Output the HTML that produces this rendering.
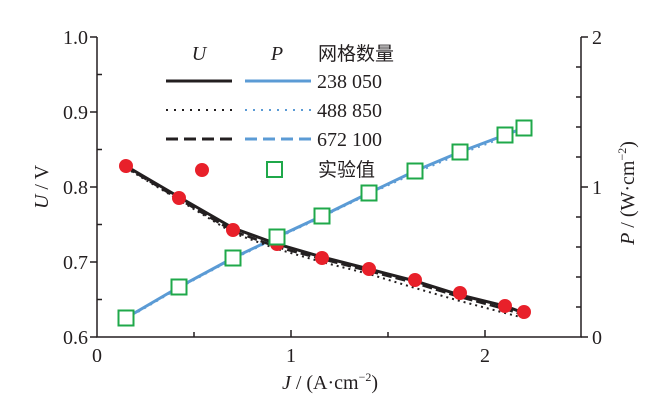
<!DOCTYPE html>
<html><head><meta charset="utf-8"><style>body{margin:0;background:#fff}svg{display:block}</style></head><body>
<svg width="664" height="414" xmlns="http://www.w3.org/2000/svg" font-family="Liberation Serif, serif" font-size="20" fill="#231f20">
<g stroke="#231f20" stroke-width="1.5" fill="none">
<path d="M97 37 V337 H581 V37"/>
<path d="M97 37h-7M97 112h-7M97 187h-7M97 262h-7M97 337h-7"/>
<path d="M97 74.5h5M97 149.5h5M97 224.5h5M97 299.5h5"/>
<path d="M581 37h7M581 187h7M581 337h7"/>
<path d="M581 67h-5M581 97h-5M581 127h-5M581 157h-5M581 217h-5M581 247h-5M581 277h-5M581 307h-5"/>
<path d="M194 337v-5M291 337v-7M388 337v-5M485 337v-7"/>
</g>
<g text-anchor="end"><text x="88" y="44">1.0</text><text x="88" y="119">0.9</text><text x="88" y="194">0.8</text><text x="88" y="269">0.7</text><text x="88" y="344">0.6</text></g>
<g><text x="592" y="44">2</text><text x="592" y="194">1</text><text x="592" y="344">0</text></g>
<g text-anchor="middle"><text x="97" y="362">0</text><text x="291" y="362">1</text><text x="485" y="362">2</text></g>
<text x="330" y="389" text-anchor="middle"><tspan font-style="italic">J</tspan> / (A·cm<tspan font-size="12" dy="-8">−2</tspan><tspan dy="8">)</tspan></text>
<text transform="translate(48 187) rotate(-90)" text-anchor="middle"><tspan font-style="italic">U</tspan> / V</text>
<text transform="translate(634 193) rotate(-90)" text-anchor="middle"><tspan font-style="italic">P</tspan> / (W·cm<tspan font-size="12" dy="-8">−2</tspan><tspan dy="8">)</tspan></text>
<text x="199" y="60" font-style="italic" text-anchor="middle">U</text>
<text x="277" y="60" font-style="italic" text-anchor="middle">P</text>
<text x="318" y="60" font-family="Liberation Sans, Noto Sans CJK SC, sans-serif" font-size="19">网格数量</text>
<text x="317" y="88">238 050</text><text x="317" y="117">488 850</text><text x="317" y="146">672 100</text>
<text x="318" y="176" font-family="Liberation Sans, Noto Sans CJK SC, sans-serif" font-size="19">实验值</text>
<path d="M166 81H232" stroke="#231f20" stroke-width="3"/>
<path d="M166 110H232" stroke="#231f20" stroke-width="2" stroke-dasharray="2 6"/>
<path d="M166 139H232" stroke="#231f20" stroke-width="3" stroke-dasharray="12 6"/>
<path d="M245 81H311" stroke="#5b9bd5" stroke-width="3"/>
<path d="M245 110H311" stroke="#5b9bd5" stroke-width="2" stroke-dasharray="2 6"/>
<path d="M245 139H311" stroke="#5b9bd5" stroke-width="3" stroke-dasharray="12 6"/>
<circle cx="202" cy="170" r="7" fill="#e8202a"/>
<rect x="267" y="162" width="15" height="15" fill="none" stroke="#1fa84a" stroke-width="2"/>
<polyline fill="none" stroke="#5b9bd5" stroke-width="3" points="126,318 179,287 233,258 277,237 322,216 369,193 415,171 460,152 505,135 524,128"/>
<polyline fill="none" stroke="#5b9bd5" stroke-width="2" stroke-dasharray="2 5" points="126,319 179,288 233,259 277,238 322,217 369,194 415,173 460,154 505,137 524,131"/>
<polyline fill="none" stroke="#231f20" stroke-width="3" points="126,166 179,197 233,228 277,244 322,257 369,269 415,281 460,295 505,306 524,313"/>
<polyline fill="none" stroke="#231f20" stroke-width="2.5" stroke-dasharray="10 4" points="126,167 179,199 233,231 277,247 322,259 369,271 415,283 460,297 505,309 524,315"/>
<polyline fill="none" stroke="#231f20" stroke-width="2" stroke-dasharray="2 4" points="126,168 179,200 233,233 277,249 322,262 369,274 415,288 460,301 505,313 524,318"/>
<g fill="#e8202a">
<circle cx="126" cy="166" r="7"/><circle cx="179" cy="198" r="7"/><circle cx="233" cy="230" r="7"/><circle cx="277" cy="244" r="7"/><circle cx="322" cy="258" r="7"/><circle cx="369" cy="269" r="7"/><circle cx="415" cy="280" r="7"/><circle cx="460" cy="293" r="7"/><circle cx="505" cy="306" r="7"/><circle cx="524" cy="312" r="7"/>
</g>
<g fill="#fff" stroke="#1fa84a" stroke-width="2">
<rect x="118.5" y="310.5" width="15" height="15"/><rect x="171.5" y="279.5" width="15" height="15"/><rect x="225.5" y="250.5" width="15" height="15"/><rect x="269.5" y="229.5" width="15" height="15"/><rect x="314.5" y="208.5" width="15" height="15"/><rect x="361.5" y="185.5" width="15" height="15"/><rect x="407.5" y="163.5" width="15" height="15"/><rect x="452.5" y="144.5" width="15" height="15"/><rect x="497.5" y="127.5" width="15" height="15"/><rect x="516.5" y="120.5" width="15" height="15"/>
</g>
</svg>
</body></html>
